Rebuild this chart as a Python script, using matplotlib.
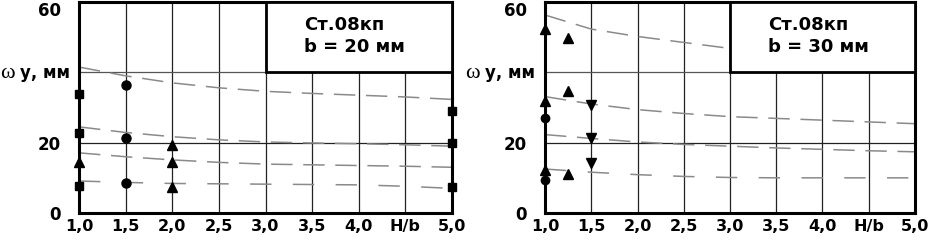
import matplotlib.pyplot as plt

plt.rcParams['font.family'] = ['DejaVu Sans']

# H/b grid for the curves
hb = [1.0, 1.5, 2.0, 2.5, 3.0, 3.5, 4.0, 4.5, 5.0]

# b = 20 mm curves
l_c1 = [41.5, 39.0, 37.0, 35.6, 34.6, 34.0, 33.5, 33.0, 32.3]
l_c2 = [24.5, 22.9, 21.7, 20.8, 20.2, 19.9, 19.7, 19.4, 19.0]
l_c3 = [17.1, 16.0, 15.1, 14.4, 13.9, 13.7, 13.5, 13.3, 13.0]
l_c4 = [9.1, 8.7, 8.4, 8.3, 8.2, 8.1, 8.0, 7.6, 7.0]

# b = 20 mm measured points
l_sq_x = [1.0, 1.0, 1.0, 5.0, 5.0, 5.0]
l_sq_y = [33.7, 22.8, 7.8, 29.1, 20.0, 7.4]
l_ci_x = [1.5, 1.5, 1.5]
l_ci_y = [36.3, 21.3, 8.4]
l_tr_x = [1.0, 2.0, 2.0, 2.0]
l_tr_y = [14.5, 19.4, 14.5, 7.5]

# b = 30 mm curves
r_hb1 = [1.0, 1.5, 2.0, 2.5, 3.0]
r_c1 = [56.3, 52.3, 50.2, 48.5, 46.8]
r_c2 = [33.1, 31.0, 29.4, 28.3, 27.4, 26.9, 26.4, 25.9, 25.4]
r_c3 = [22.3, 21.2, 20.2, 19.5, 19.0, 18.5, 18.1, 17.7, 17.4]
r_c4 = [12.5, 11.6, 10.9, 10.4, 10.1, 10.0, 10.0, 10.0, 10.0]

# b = 30 mm measured points
r_tu_x = [1.0, 1.0, 1.0, 1.25, 1.25, 1.25]
r_tu_y = [52.3, 31.8, 12.1, 49.7, 34.7, 11.2]
r_ci_x = [1.0, 1.0]
r_ci_y = [26.9, 9.4]
r_td_x = [1.5, 1.5, 1.5]
r_td_y = [30.6, 21.3, 14.3]

xticks = [1.0, 1.5, 2.0, 2.5, 3.0, 3.5, 4.0, 4.5, 5.0]
xlabels = ['1,0', '1,5', '2,0', '2,5', '3,0', '3,5', '4,0', 'H/b', '5,0']

W, H = 929, 240
fig = plt.figure(figsize=(W / 100, H / 100), dpi=100)
ax1 = fig.add_axes([79 / W, 27 / H, 373 / W, 211 / H])
ax2 = fig.add_axes([545 / W, 27 / H, 370 / W, 211 / H])

gray = '#8a8a8a'
dash = (0, (14, 7))


def setup(ax, title_b):
    ax.set_xlim(1.0, 5.0)
    ax.set_ylim(0, 60)
    for x in xticks[1:-1]:
        ax.axvline(x, color='#222', lw=0.9, zorder=1)
    ax.axhline(20, color='#222', lw=0.9, zorder=1)
    ax.axhline(40, color='#555', lw=0.9, zorder=1)
    ax.set_xticks(xticks)
    ax.set_xticklabels(xlabels, fontsize=11.5, fontweight='bold')
    ax.set_yticks([0, 20, 60])
    ax.set_yticklabels(['0', '20', '60'], fontsize=12, fontweight='bold')
    ax.get_yticklabels()[-1].set_va('top')
    ax.tick_params(length=0)
    ax.tick_params(axis='x', pad=4)
    ax.tick_params(axis='y', pad=13)
    for s in ax.spines.values():
        s.set_linewidth(2.2)
    box = plt.Rectangle((3.0, 40), 2.0, 20, facecolor='white',
                        edgecolor='black', lw=2.0, zorder=4)
    ax.add_patch(box)
    ax.text(3.41, 53.5, 'Ст.08кп', fontsize=13, fontweight='bold',
            va='center', ha='left', zorder=5)
    ax.text(3.41, 47.2, 'b = ' + title_b + ' мм', fontsize=13,
            fontweight='bold', va='center', ha='left', zorder=5)


setup(ax1, '20')
setup(ax2, '30')

for c in [l_c1, l_c2, l_c3]:
    ax1.plot(hb, c, color=gray, lw=1.1, linestyle=dash, zorder=2)
ax1.plot(hb, l_c4, color=gray, lw=1.1, linestyle=(0, (14, 14)), zorder=2)

ax1.plot(l_sq_x, l_sq_y, 's', color='black', ms=6, clip_on=False, zorder=6)
ax1.plot(l_ci_x, l_ci_y, 'o', color='black', ms=6.5, clip_on=False, zorder=6)
ax1.plot(l_tr_x, l_tr_y, '^', color='black', ms=6.5, clip_on=False, zorder=6)

ax2.plot(r_hb1, r_c1, color=gray, lw=1.1, linestyle=dash, zorder=2)
ax2.plot(hb, r_c2, color=gray, lw=1.1, linestyle=dash, zorder=2)
ax2.plot(hb, r_c3, color=gray, lw=1.1, linestyle=dash, zorder=2)
ax2.plot(hb, r_c4, color=gray, lw=1.1, linestyle=(0, (14, 14)), zorder=2)

ax2.plot(r_tu_x, r_tu_y, '^', color='black', ms=6.5, clip_on=False, zorder=6)
ax2.plot(r_ci_x, r_ci_y, 'o', color='black', ms=6, clip_on=False, zorder=6)
ax2.plot(r_td_x, r_td_y, 'v', color='black', ms=6.5, clip_on=False, zorder=6)

# y-axis labels at the 40 mark
for x0 in [0, 465]:
    fig.text(x0 / W, 1 - 73 / H, 'ω', family='Liberation Serif',
             fontsize=16, va='center', ha='left')
    fig.text((x0 + 20) / W, 1 - 73 / H, 'у, мм', fontsize=12,
             fontweight='bold', va='center', ha='left')

fig.savefig('out.png', dpi=100)
